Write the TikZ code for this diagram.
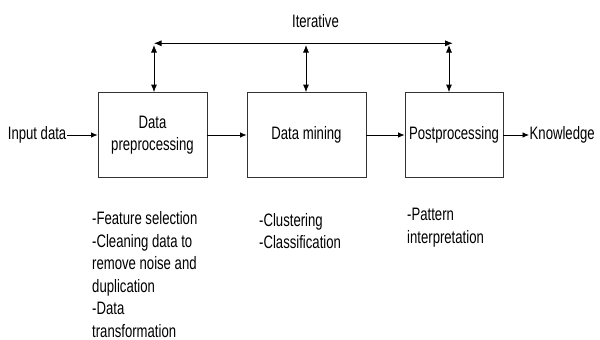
\documentclass[tikz,border=0pt]{standalone}
\usepackage{fontspec}
\setmainfont{Liberation Sans}[FakeStretch=0.73]
\usetikzlibrary{arrows.meta}
\tikzset{
  txt/.style={font=\fontsize{18pt}{22.5pt}\selectfont, inner sep=0.5pt},
  stage/.style={draw=black!80, line width=0.8pt, minimum width=#1, minimum height=85pt, inner sep=0pt, font=\fontsize{18pt}{22pt}\selectfont, align=center},
  arr/.style={line width=0.8pt, -{Latex[length=6.5pt,width=5.5pt]}},
  darr/.style={line width=0.8pt, {Latex[length=7.5pt,width=6pt]}-{Latex[length=7.5pt,width=6pt]}},
  note/.style={txt, align=left, anchor=base west, inner sep=0pt}
}
\begin{document}
\begin{tikzpicture}[x=1pt,y=-1pt]
\useasboundingbox (0,0) rectangle (600,340);
% stages
\node[stage=109pt] (b1) at (152.5,135) {Data\\preprocessing};
\node[stage=119pt] (b2) at (306.5,135) {Data mining};
\node[stage=98pt]  (b3) at (454,135) {Postprocessing};
% input/output
\node[txt, anchor=east] (in) at (67,135) {Input data};
\node[txt, anchor=west] (out) at (529,135) {Knowledge};
\draw[arr] (in.east) -- (b1.west);
\draw[arr] (b1.east) -- (b2.west);
\draw[arr] (b2.east) -- (b3.west);
\draw[arr] (b3.east) -- (out.west);
% iterative loop
\node[txt] (it) at (315.5,21) {Iterative};
\coordinate (tl) at (154,43.3);
\coordinate (tr) at (452.7,43.3);
\coordinate (v1) at (154,45);
\coordinate (v2) at (306,45);
\coordinate (v3) at (449,45);
\draw[darr] (tl) -- (tr);
\draw[darr] (v1) -- (v1 |- b1.north);
\draw[darr] (v2) -- (v2 |- b2.north);
\draw[darr] (v3) -- (v3 |- b3.north);
% notes (base anchor = baseline of last line)
\node[note] (n1) at (92,337) {-Feature selection\\-Cleaning data to\\remove noise and\\duplication\\-Data\\transformation};
\node[note] (n2) at (259,248.5) {-Clustering\\-Classification};
\node[note] (n3) at (407,243) {-Pattern\\interpretation};
\end{tikzpicture}
\end{document}
